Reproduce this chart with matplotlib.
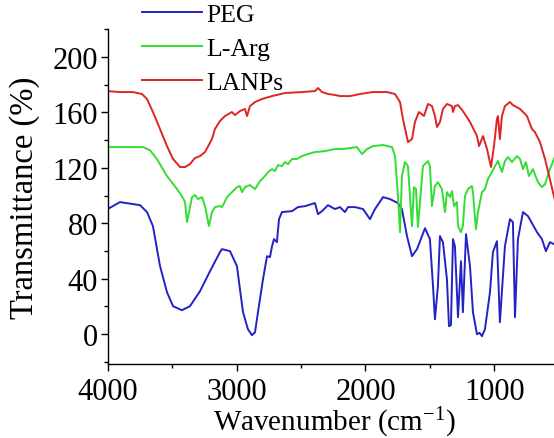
import matplotlib
matplotlib.use("Agg")
import matplotlib.pyplot as plt
from matplotlib.ticker import MultipleLocator

plt.rcParams['font.family'] = ['Liberation Serif', 'DejaVu Serif']
plt.rcParams['mathtext.fontset'] = 'custom'
plt.rcParams['mathtext.rm'] = 'Liberation Serif'
plt.rcParams['mathtext.it'] = 'Liberation Serif'

# ---- data (wavenumber cm-1, transmittance %) ----
peg_w = [4000, 4000, 3905, 3749, 3695, 3649, 3594, 3540, 3493, 3424, 3362, 3284, 3206, 3129,
         3113, 3051, 2997, 2974, 2950, 2912, 2881, 2857, 2834, 2795, 2764, 2741, 2725, 2710,
         2687, 2671, 2648, 2570, 2524, 2469, 2392, 2368, 2337, 2291, 2237, 2198, 2159, 2136,
         2081, 2019, 1965, 1926, 1864, 1810, 1748, 1717, 1678, 1639, 1600, 1538, 1500, 1476,
         1461, 1438, 1422, 1399, 1368, 1352, 1337, 1321, 1306, 1282, 1259, 1244, 1220, 1189,
         1166, 1135, 1115, 1096, 1073, 1034, 1011, 980, 957, 918, 879, 856, 840, 817, 778,
         739, 669, 631, 600, 569, 538, 500]
peg_t = [-21.5, 90.3, 95.3, 93.1, 88.1, 78.0, 49.1, 30.3, 20.2, 17.3, 20.2, 31.0, 45.5, 59.2,
         61.4, 59.9, 49.1, 32.5, 15.9, 3.6, -0.7, 1.4, 15.9, 39.7, 56.3, 55.6, 63.5, 68.6,
         66.4, 83.0, 88.1, 88.8, 91.7, 92.4, 94.6, 86.6, 88.8, 93.1, 90.3, 91.7, 88.1, 91.7,
         91.7, 90.3, 83.0, 90.3, 98.9, 97.5, 94.6, 90.3, 70.8, 56.3, 61.4, 76.5, 68.6, 34.7,
         10.8, 34.7, 70.8, 66.4, 39.7, 5.8, 6.5, 68.6, 63.5, 12.3, 52.7, 15.9, 72.2, 49.1,
         15.9, 0.0, 1.0, -1.4, 3.6, 30.3, 59.2, 67.1, 8.7, 63.5, 83.0, 80.9, 12.3, 68.6, 88.1,
         85.2, 73.6, 68.6, 59.9, 66.4, 65.0, 64.0]

larg_w = [4000, 4000, 3804, 3726, 3672, 3618, 3540, 3462, 3424, 3400, 3385, 3369, 3346, 3323,
          3299, 3268, 3245, 3214, 3191, 3168, 3129, 3113, 3074, 3036, 2997, 2974, 2958, 2935,
          2896, 2857, 2818, 2780, 2756, 2725, 2702, 2679, 2648, 2625, 2601, 2570, 2531, 2493,
          2446, 2392, 2314, 2237, 2175, 2066, 2027, 1988, 1942, 1864, 1794, 1771, 1748, 1732,
          1717, 1694, 1670, 1655, 1639, 1624, 1608, 1593, 1577, 1554, 1515, 1500, 1484, 1461,
          1438, 1407, 1383, 1368, 1344, 1329, 1313, 1290, 1282, 1259, 1244, 1228, 1205, 1174,
          1166, 1143, 1127, 1096, 1073, 1050, 1019, 995, 972, 941, 918, 894, 863, 825, 801,
          778, 755, 732, 701, 662, 631, 607, 569, 538, 500]
larg_t = [90.3, 135.0, 135.0, 135.0, 132.8, 126.4, 114.1, 104.7, 99.6, 95.3, 80.9, 88.1, 98.9,
          100.4, 97.5, 98.9, 92.4, 78.0, 88.1, 91.7, 92.4, 91.7, 98.9, 102.5, 106.1, 106.9,
          102.5, 106.1, 107.6, 104.7, 110.5, 114.1, 117.0, 119.1, 117.7, 122.0, 121.3, 124.2,
          122.7, 126.4, 126.4, 128.5, 130.0, 131.4, 132.1, 133.6, 133.6, 135.0, 130.0, 133.6,
          135.7, 136.5, 135.0, 128.5, 99.6, 73.6, 114.1, 124.2, 121.3, 99.6, 78.0, 106.1,
          104.7, 77.3, 95.3, 121.3, 124.9, 121.3, 92.4, 106.9, 109.7, 104.7, 88.1, 102.5, 98.9,
          103.2, 92.4, 95.3, 78.0, 73.6, 78.0, 99.6, 104.7, 106.9, 102.5, 75.8, 88.1, 102.5,
          104.7, 111.9, 117.0, 121.3, 124.9, 117.0, 124.9, 127.8, 124.2, 128.5, 126.4, 119.1,
          124.2, 114.1, 119.1, 109.7, 106.1, 108.3, 119.1, 126.4, 134.0]

lanp_w = [4000, 3905, 3804, 3734, 3695, 3649, 3594, 3540, 3493, 3439, 3400, 3362, 3323, 3284,
          3245, 3191, 3168, 3129, 3090, 3036, 3012, 2974, 2935, 2919, 2896, 2857, 2803, 2725,
          2625, 2493, 2392, 2368, 2337, 2291, 2237, 2198, 2120, 2043, 1942, 1833, 1771, 1732,
          1709, 1670, 1639, 1616, 1585, 1546, 1515, 1484, 1461, 1445, 1422, 1399, 1368, 1329,
          1321, 1306, 1282, 1244, 1189, 1135, 1119, 1088, 1057, 1026, 1003, 980, 972, 957, 941,
          918, 879, 856, 801, 747, 708, 685, 646, 607, 569, 538, 500]
lanp_t = [175.4, 174.7, 174.7, 173.3, 169.7, 160.3, 148.0, 135.7, 126.4, 120.6, 120.6, 122.7,
          127.1, 128.5, 131.4, 140.8, 148.0, 153.8, 157.4, 160.3, 158.1, 161.0, 162.5, 157.4,
          164.6, 167.5, 169.7, 171.8, 174.0, 174.7, 175.4, 177.6, 174.7, 173.3, 172.6, 171.8,
          171.8, 173.3, 174.7, 174.7, 173.3, 167.5, 155.2, 138.6, 140.8, 153.1, 160.3, 157.4,
          166.1, 164.6, 157.4, 149.5, 153.1, 162.5, 166.1, 164.6, 160.3, 164.6, 165.3, 161.0,
          153.1, 143.0, 135.7, 143.0, 133.6, 120.6, 135.7, 155.2, 157.4, 140.8, 157.4, 164.6,
          167.5, 165.3, 162.5, 157.4, 148.0, 145.8, 138.6, 126.4, 111.9, 99.6, 85.0]

labels = ['PEG', 'L-Arg', 'LANPs']
colors = ['#2323c4', '#33dd33', '#dd2525']
xticks = [4000, 3000, 2000, 1000]
yticks = [0, 40, 80, 120, 160, 200]

W, H = 554, 439
fig = plt.figure(figsize=(W / 100, H / 100), dpi=100)
ax = fig.add_axes([107.7 / W, 1 - 365 / H, (558.8 - 107.7) / W, (365 - 30) / H])

for w, t, lab, c in zip([peg_w, larg_w, lanp_w], [peg_t, larg_t, lanp_t], labels, colors):
    ax.plot(w, t, color=c, lw=1.4, label=lab)

ax.set_xlim(4000, 500)
ax.set_ylim(-21.5, 220.2)
ax.set_xticks(xticks)
ax.set_yticks(yticks)
ax.xaxis.set_minor_locator(MultipleLocator(500))
ax.yaxis.set_minor_locator(MultipleLocator(20))
ax.tick_params(which='major', direction='out', length=5, width=1, labelsize=22, pad=2)
ax.tick_params(axis='x', which='major', pad=4.5)
ax.tick_params(which='minor', direction='out', length=2.7, width=1)
for s in ['top', 'right']:
    ax.spines[s].set_visible(False)
for s in ['left', 'bottom']:
    ax.spines[s].set_linewidth(1)

ax.set_xlabel('Wavenumber (cm$^{-1}$)', fontsize=21)
ax.set_ylabel('Transmittance (%)', fontsize=23.5)
ax.xaxis.set_label_coords((334 - 107.7) / (558.8 - 107.7), (365 - 406) / (365 - 30))
ax.yaxis.set_label_coords((25 - 107.7) / (558.8 - 107.7), 0.5)
ax.yaxis.label.set_verticalalignment('center')

leg = fig.legend(loc='upper left', bbox_to_anchor=(142 / W, 1 - 4 / H), frameon=False,
                 fontsize=18.5, handlelength=2.33, handletextpad=0.19, labelspacing=0.42,
                 borderpad=0, borderaxespad=0)

fig.savefig('out.png', dpi=100)
